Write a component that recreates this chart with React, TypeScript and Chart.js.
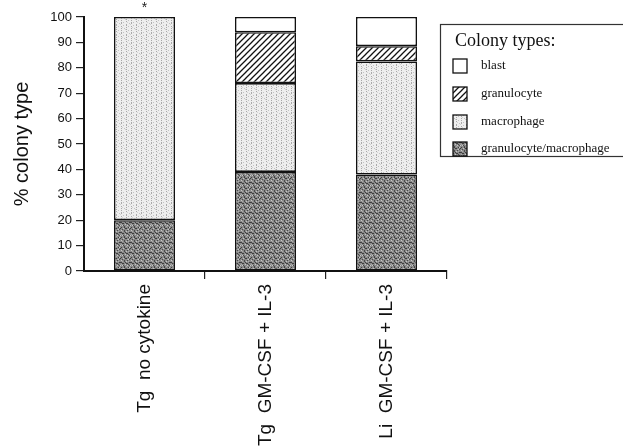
import React, { useEffect, useRef } from "react";
import { Chart, registerables } from "chart.js";

Chart.register(...registerables);

const categories = ["Tg  no cytokine", "Tg  GM-CSF + IL-3", "Li  GM-CSF + IL-3"];
const gmValues = [20, 39, 38];
const macValues = [80, 35, 44.5];
const granValues = [0, 20, 6];
const blastValues = [0, 6, 11.5];
const seriesLabels = ["granulocyte/macrophage", "macrophage", "granulocyte", "blast"];
const marks = ["*", "", ""];
const legendTitle = "Colony types:";
const yAxisTitle = "% colony type";

function makeTile(size: number, draw: (c: CanvasRenderingContext2D) => void): CanvasPattern | string {
  const cv = document.createElement("canvas");
  cv.width = size;
  cv.height = size;
  const c = cv.getContext("2d");
  if (!c) return "#ccc";
  draw(c);
  const p = c.createPattern(cv, "repeat");
  return p || "#ccc";
}

function px(c: CanvasRenderingContext2D, pts: number[][], col: string) {
  c.fillStyle = col;
  for (const [x, y] of pts) c.fillRect(x, y, 1, 1);
}

function makePatterns() {
  const blast = "#ffffff";
  const gran = makeTile(6, (c) => {
    c.fillStyle = "#ffffff";
    c.fillRect(0, 0, 6, 6);
    c.strokeStyle = "#111";
    c.lineWidth = 1.3;
    c.beginPath();
    for (let k = -1; k <= 1; k++) {
      c.moveTo(-1 + k * 6, 7);
      c.lineTo(7 + k * 6, -1);
    }
    c.stroke();
  });
  const mac = makeTile(10, (c) => {
    c.fillStyle = "#eeeeee";
    c.fillRect(0, 0, 10, 10);
    px(c, [[1, 0], [1, 2], [1, 3], [1, 6], [1, 8], [6, 1], [6, 4], [6, 5], [6, 7], [6, 9]], "#a9a9a9");
    px(c, [[3, 2], [8, 6], [4, 8], [9, 3], [3, 5], [8, 0]], "#c2c2c2");
    px(c, [[0, 4], [5, 9], [7, 2], [2, 7]], "#d2d2d2");
  });
  const gm = makeTile(10, (c) => {
    c.fillStyle = "#8a8a8a";
    c.fillRect(0, 0, 10, 10);
    px(c, [[0, 2], [1, 2], [2, 3], [3, 3], [5, 2], [6, 3], [7, 3], [9, 2], [4, 7], [5, 8], [6, 8], [8, 7], [0, 8], [1, 7]], "#3e3e3e");
    px(c, [[4, 0], [4, 1], [3, 5], [4, 6], [8, 4], [9, 5], [9, 9], [2, 9], [7, 0]], "#4a4a4a");
    px(c, [[1, 0], [6, 1], [2, 5], [7, 5], [0, 5], [5, 4], [3, 8], [8, 9], [9, 7]], "#c6c6c6");
    px(c, [[2, 1], [8, 1], [6, 6], [1, 4], [7, 9]], "#aaaaaa");
  });
  return { blast, gran, mac, gm };
}

export default function App() {
  const ref = useRef<HTMLCanvasElement | null>(null);

  useEffect(() => {
    if (!ref.current) return;
    const pats = makePatterns();
    const fills = [pats.gm, pats.mac, pats.gran, pats.blast];
    const values = [gmValues, macValues, granValues, blastValues];

    const overlay = {
      id: "overlay",
      afterDraw(chart: any) {
        const ctx = chart.ctx as CanvasRenderingContext2D;
        const xs = chart.scales.x;
        const ys = chart.scales.y;
        ctx.save();
        ctx.fillStyle = "#222";
        ctx.font = "14px 'Liberation Sans', Arial, sans-serif";
        ctx.textAlign = "center";
        ctx.textBaseline = "middle";
        marks.forEach((m, i) => {
          if (!m) return;
          const total = values.reduce((s, arr) => s + arr[i], 0);
          ctx.fillText(m, xs.getPixelForValue(i), ys.getPixelForValue(total) - 9);
        });
        ctx.restore();

        ctx.save();
        const bx = 440, by = 24, bw = 190, bh = 132;
        ctx.strokeStyle = "#333";
        ctx.lineWidth = 1.2;
        ctx.strokeRect(bx + 0.5, by + 0.5, bw, bh);
        ctx.fillStyle = "#111";
        ctx.font = "18px 'Liberation Serif', 'Times New Roman', serif";
        ctx.textAlign = "left";
        ctx.textBaseline = "middle";
        ctx.fillText(legendTitle, 455, 41);
        ctx.font = "13px 'Liberation Serif', 'Times New Roman', serif";
        const rowsY = [66, 94, 122, 149];
        const order = [3, 2, 1, 0];
        order.forEach((di, r) => {
          const y = rowsY[r];
          ctx.fillStyle = fills[di] as any;
          ctx.fillRect(453, y - 7, 14, 14);
          ctx.strokeStyle = "#111";
          ctx.lineWidth = 1.3;
          ctx.strokeRect(453, y - 7, 14, 14);
          ctx.fillStyle = "#111";
          ctx.fillText(chart.data.datasets[di].label, 481, y);
        });
        ctx.restore();
      },
    };

    const chart = new Chart(ref.current, {
      type: "bar",
      data: {
        labels: categories,
        datasets: values.map((v, i) => ({
          label: seriesLabels[i],
          data: v,
          backgroundColor: fills[i] as any,
          borderColor: "#111",
          borderWidth: 1.6,
          borderSkipped: false,
          barPercentage: 0.505,
          categoryPercentage: 1,
        })),
      },
      options: {
        animation: false,
        responsive: false,
        maintainAspectRatio: false,
        layout: { padding: { top: 17, right: 176, left: 0, bottom: 0 } },
        plugins: { legend: { display: false }, tooltip: { enabled: false } },
        scales: {
          x: {
            stacked: true,
            afterFit: (s: any) => {
              s.height = 176;
            },
            border: { display: true, color: "#111", width: 2 },
            grid: {
              offset: true,
              drawOnChartArea: false,
              tickLength: 8,
              lineWidth: 1.2,
              color: (c: any) => (c.index === 0 || c.index === 3 ? "rgba(0,0,0,0)" : "#222"),
            },
            ticks: {
              minRotation: 90,
              maxRotation: 90,
              padding: 5,
              color: "#111",
              font: { family: "'Liberation Sans', Arial, sans-serif", size: 19 },
            },
          },
          y: {
            stacked: true,
            min: 0,
            max: 100,
            afterFit: (s: any) => {
              s.width = 84;
            },
            border: { display: true, color: "#111", width: 2 },
            grid: { drawOnChartArea: false, tickLength: 8, color: "#222", lineWidth: 1.2 },
            ticks: {
              stepSize: 10,
              padding: 4,
              color: "#111",
              font: { family: "'Liberation Sans', Arial, sans-serif", size: 13 },
            },
            title: {
              display: true,
              text: yAxisTitle,
              color: "#111",
              padding: { top: 10, bottom: 0 },
              font: { family: "'Liberation Sans', Arial, sans-serif", size: 20 },
            },
          },
        },
      },
      plugins: [overlay],
    });
    return () => chart.destroy();
  }, []);

  return (
    <div style={{ position: "absolute", left: 0, top: 0, width: 623, height: 447, background: "#fff" }}>
      <canvas ref={ref} width={623} height={447} style={{ width: 623, height: 447 }} />
    </div>
  );
}
